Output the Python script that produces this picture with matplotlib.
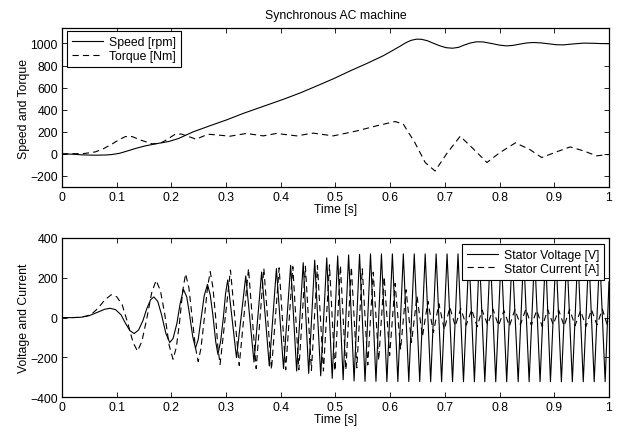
import matplotlib
matplotlib.use("Agg")
import matplotlib.pyplot as plt

plt.rcParams['font.family'] = ['Liberation Sans', 'DejaVu Sans']
plt.rcParams['lines.scale_dashes'] = False

# ---- top panel: speed and torque ----
speed_t = [0, 0.02, 0.037, 0.061, 0.08, 0.091, 0.105, 0.12, 0.135, 0.152, 0.171,
           0.185, 0.195, 0.213, 0.24, 0.27, 0.301, 0.331, 0.362, 0.405, 0.436,
           0.466, 0.497, 0.527, 0.557, 0.587, 0.605, 0.618, 0.628, 0.638, 0.648,
           0.657, 0.668, 0.68, 0.69, 0.702, 0.714, 0.725, 0.735, 0.747, 0.758,
           0.77, 0.785, 0.8, 0.813, 0.825, 0.838, 0.85, 0.862, 0.876, 0.89,
           0.903, 0.916, 0.935, 0.953, 0.97, 0.985, 1.0]
speed = [0, -3, -9, -12, -10, -6, 5, 27, 50, 72, 91,
         103, 112, 139, 200, 254, 308, 366, 420, 495, 553,
         616, 682, 752, 818, 888, 938, 975, 1005, 1028, 1039,
         1038, 1025, 1000, 980, 962, 957, 965, 985, 1005, 1015,
         1014, 1000, 985, 978, 983, 995, 1005, 1009, 1005, 997,
         989, 987, 996, 1003, 1002, 999, 998]

torque_t = [0, 0.04, 0.061, 0.075, 0.091, 0.105, 0.116, 0.128, 0.146, 0.165,
            0.179, 0.189, 0.207, 0.218, 0.23, 0.245, 0.267, 0.287, 0.307, 0.337,
            0.368, 0.392, 0.429, 0.459, 0.496, 0.539, 0.575, 0.609, 0.624, 0.645,
            0.664, 0.682, 0.703, 0.728, 0.752, 0.777, 0.80, 0.829, 0.855, 0.877,
            0.905, 0.929, 0.955, 0.977, 1.0]
torque = [0, 3, 18, 45, 88, 130, 157, 157, 121, 91,
          95, 121, 178, 180, 160, 133, 178, 170, 160, 185,
          163, 185, 163, 188, 163, 208, 254, 293, 269, 103,
          -78, -155, 0, 160, 45, -78, 10, 100, 40, -33,
          20, 63, 25, -18, -5]

# ---- bottom panel: stator voltage and current ----
volt_t = [0.000, 0.020, 0.035, 0.050, 0.065, 0.078, 0.088, 0.098, 0.108, 0.116,
          0.124, 0.132, 0.140, 0.148, 0.155, 0.162, 0.168, 0.175, 0.182, 0.190,
          0.197, 0.203, 0.210, 0.216, 0.222, 0.228, 0.233, 0.239, 0.244, 0.249,
          0.254, 0.260, 0.266, 0.271, 0.276, 0.281, 0.285, 0.290, 0.295, 0.299,
          0.303, 0.319, 0.336, 0.351, 0.365, 0.379, 0.392, 0.405, 0.418, 0.429,
          0.441, 0.451, 0.462, 0.473, 0.484, 0.494, 0.504, 0.514, 0.524, 0.534,
          0.544, 0.554, 0.564, 0.574, 0.584, 0.594, 0.604, 0.614, 0.624, 0.634,
          0.644, 0.654, 0.664, 0.674, 0.684, 0.694, 0.704, 0.714, 0.724, 0.734,
          0.744, 0.754, 0.763, 0.773, 0.783, 0.793, 0.803, 0.813, 0.823, 0.834,
          0.844, 0.854, 0.864, 0.874, 0.884, 0.893, 0.903, 0.913, 0.923, 0.933,
          0.943, 0.953, 0.963, 0.973, 0.983, 0.993, 1.000]
volt = [0, 0, 2, 10, 27, 42, 47, 40, 14, -28,
        -65, -80, -62, -15, 45, 90, 104, 82, 15, -80,
        -125, -105, -30, 70, 142, 105, 20, -95, -153, -110,
        -10, 110, 167, 115, 10, -120, -184, -120, 0, 120,
        189, -201, 209, -223, 229, -243, 246, -256, 263, -268,
        276, -280, 289, -292, 300, -305, 310, -312, 315, -318,
        318, -320, 320, -320, 320, -321, 320, -321, 320, -321,
        320, -321, 320, -322, 320, -322, 320, -322, 320, -322,
        320, -322, 320, -322, 320, -322, 320, -322, 320, -322,
        320, -322, 320, -322, 320, -322, 320, -322, 320, -322,
        320, -322, 320, -322, 320, -322, 180]

curr_t = [0.000, 0.030, 0.045, 0.055, 0.065, 0.078, 0.090, 0.100, 0.110, 0.120,
          0.130, 0.138, 0.146, 0.155, 0.164, 0.172, 0.180, 0.188, 0.196, 0.203,
          0.209, 0.215, 0.221, 0.226, 0.232, 0.238, 0.244, 0.249, 0.254, 0.260,
          0.266, 0.271, 0.276, 0.281, 0.285, 0.289, 0.308, 0.324, 0.341, 0.355,
          0.369, 0.383, 0.397, 0.409, 0.422, 0.433, 0.445, 0.456, 0.467, 0.478,
          0.489, 0.499, 0.509, 0.519, 0.529, 0.539, 0.549, 0.559, 0.569, 0.579,
          0.589, 0.599, 0.609, 0.619, 0.629, 0.639, 0.649, 0.659, 0.669, 0.679,
          0.689, 0.699, 0.709, 0.719, 0.729, 0.739, 0.749, 0.759, 0.768, 0.778,
          0.788, 0.798, 0.808, 0.818, 0.828, 0.838, 0.848, 0.858, 0.868, 0.878,
          0.888, 0.898, 0.908, 0.918, 0.928, 0.938, 0.948, 0.958, 0.968, 0.978,
          0.988, 0.997, 1.000]
curr = [0, 1, 8, 20, 45, 88, 115, 105, 65, -25,
        -125, -168, -120, -5, 125, 187, 135, 15, -140, -209,
        -150, -20, 140, 220, 150, 0, -150, -220, -155, -10,
        150, 231, 150, 0, -150, -235, 239, -240, 246, -256,
        248, -260, 250, -262, 256, -262, 258, -265, 262, -268,
        265, -268, 262, -262, 255, -252, 245, -238, 228, -215,
        205, -190, 172, -160, 140, -125, 108, -95, 82, -75,
        70, -60, 52, -42, 45, -38, 40, -45, 38, -35,
        42, -40, 35, -42, 40, -35, 42, -38, 36, -45,
        40, -35, 38, -42, 42, -40, 35, -44, 40, -36,
        42, -38, -20]

xticks = [0, 0.1, 0.2, 0.3, 0.4, 0.5, 0.6, 0.7, 0.8, 0.9, 1]
xticklabels = ['0', '0.1', '0.2', '0.3', '0.4', '0.5', '0.6', '0.7', '0.8', '0.9', '1']
top_yticks = [-200, 0, 200, 400, 600, 800, 1000]
bot_yticks = [-400, -200, 0, 200, 400]

fs = 8.8
fig = plt.figure(figsize=(6.23, 4.35), dpi=100)
ax1 = fig.add_axes([0.0995, 0.5678, 0.878, 0.3655])
ax2 = fig.add_axes([0.0995, 0.0844, 0.878, 0.3662])

lw = 0.8
dash = (0, (4.5, 3))
ax1.plot(speed_t, speed, color='black', lw=lw, label='Speed [rpm]')
ax1.plot(torque_t, torque, color='black', lw=lw, linestyle=dash, label='Torque [Nm]')
ax2.plot(volt_t, volt, color='black', lw=lw, label='Stator Voltage [V]')
ax2.plot(curr_t, curr, color='black', lw=lw, linestyle=dash, label='Stator Current [A]')

ax1.set_ylim(-300, 1140)
ax2.set_ylim(-400, 400)
ax1.set_yticks(top_yticks)
ax2.set_yticks(bot_yticks)

for ax in (ax1, ax2):
    ax.set_xlim(0, 1)
    ax.set_xticks(xticks)
    ax.set_xticklabels(xticklabels)
    ax.tick_params(direction='in', top=True, right=True, length=3.5, width=0.6,
                   labelsize=fs, pad=3)
    for s in ax.spines.values():
        s.set_linewidth(0.9)
    ax.set_xlabel('Time [s]', fontsize=fs, labelpad=0)

ax1.set_ylabel('Speed and Torque', fontsize=fs, labelpad=0.5)
ax2.set_ylabel('Voltage and Current', fontsize=fs, labelpad=0.5)
ax1.set_title('Synchronous AC machine', fontsize=fs, pad=7)

leg_kw = dict(fontsize=fs, frameon=True, fancybox=False, framealpha=1,
              edgecolor='black', borderpad=0.4, labelspacing=0.15,
              handlelength=2.5, handletextpad=0.5, borderaxespad=0)
l1 = ax1.legend(loc='upper left', bbox_to_anchor=(0.01, 0.98), **leg_kw)
l2 = ax2.legend(loc='upper right', bbox_to_anchor=(0.991, 0.962), **leg_kw)
for l in (l1, l2):
    l.get_frame().set_linewidth(0.8)

fig.savefig('out.png', dpi=100)
